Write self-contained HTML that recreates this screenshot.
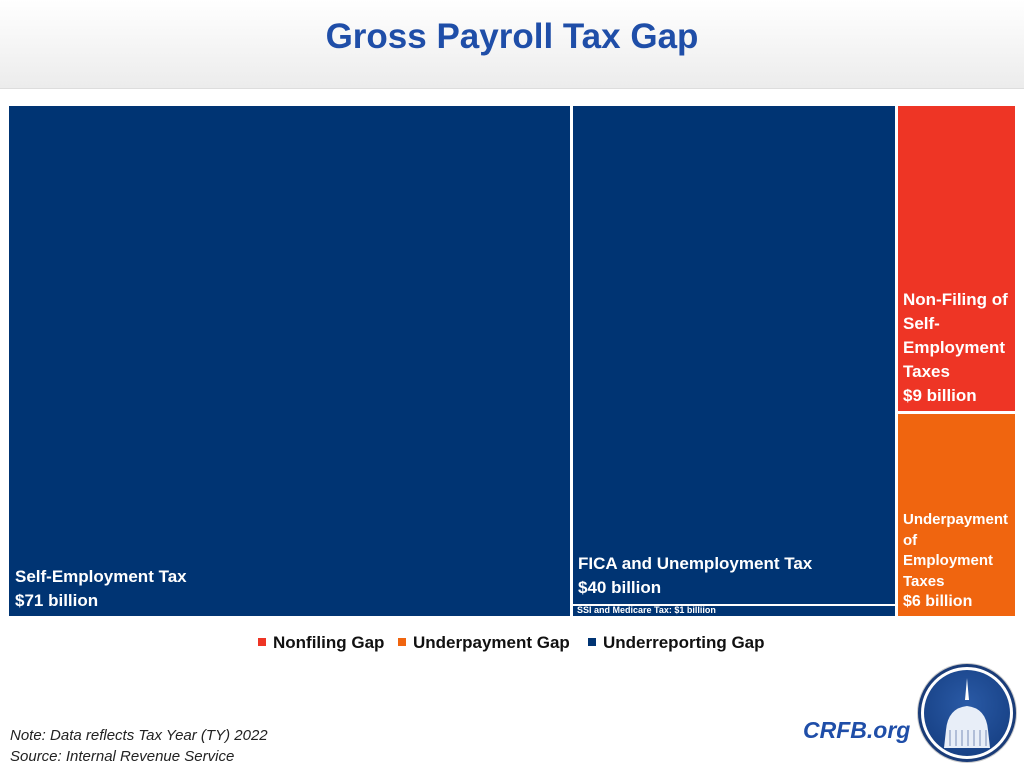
<!DOCTYPE html>
<html><head><style>
body{margin:0;width:1024px;height:768px;background:#fff;position:relative;overflow:hidden;font-family:"Liberation Sans",sans-serif}
.hdr{position:absolute;left:0;top:0;width:1024px;height:88px;background:linear-gradient(#fff,#ececec);border-bottom:1px solid #ddd}
.title{position:absolute;left:0;width:1024px;top:17px;text-align:center;font-size:35px;font-weight:bold;color:#1f4ea8}
.b{position:absolute}
.lab{position:absolute;color:#fff;font-weight:bold;font-size:17px;line-height:24px}
.leg{position:absolute;top:633px;font-size:17px;font-weight:bold;color:#111}
.sq{display:inline-block;width:8px;height:8px;margin-right:7px;vertical-align:2px}
.note{position:absolute;left:10px;font-size:15px;font-style:italic;color:#222}
</style></head><body>
<div class="hdr"></div>
<div class="title">Gross Payroll Tax Gap</div>
<div class="b" style="left:9px;top:106px;width:561px;height:510px;background:#003473"></div>
<div class="b" style="left:573px;top:106px;width:322px;height:498px;background:#003473"></div>
<div class="b" style="left:573px;top:606px;width:322px;height:10px;background:#003473"></div>
<div class="b" style="left:898px;top:106px;width:117px;height:305px;background:#ee3525"></div>
<div class="b" style="left:898px;top:414px;width:117px;height:202px;background:#f0650f"></div>
<div class="lab" style="left:15px;top:565px">Self-Employment Tax<br>$71 billion</div>
<div class="lab" style="left:578px;top:552px">FICA and Unemployment Tax<br>$40 billion</div>
<div class="lab" style="left:577px;top:604px;font-size:9px;line-height:12px">SSI and Medicare Tax: $1 billiion</div>
<div class="lab" style="left:903px;top:288px">Non-Filing of<br>Self-<br>Employment<br>Taxes<br>$9 billion</div>
<div class="lab" style="left:903px;top:510px;font-size:15px;line-height:20.5px">Underpayment<br>of<br>Employment<br>Taxes<br><span style="font-size:16px">$6 billion</span></div>
<div class="leg" style="left:258px"><span class="sq" style="background:#ee3525"></span>Nonfiling Gap</div>
<div class="leg" style="left:398px"><span class="sq" style="background:#f0650f"></span>Underpayment Gap</div>
<div class="leg" style="left:588px"><span class="sq" style="background:#003473"></span>Underreporting Gap</div>
<div class="note" style="top:727px">Note: Data reflects Tax Year (TY) 2022</div>
<div class="note" style="top:748px">Source: Internal Revenue Service</div>
<div style="position:absolute;left:803px;top:717px;font-size:23px;font-weight:bold;font-style:italic;color:#1f4ea8">CRFB.org</div>
<div style="position:absolute;left:918px;top:664px;width:92px;height:92px;border-radius:50%;background:#fff;border:3px solid #1a3c78;box-shadow:0 0 0 1px #ccc"></div>
<div style="position:absolute;left:924px;top:670px;width:86px;height:86px;border-radius:50%;background:radial-gradient(circle at 50% 40%,#2a5aa6,#123a7c)"></div>
<svg style="position:absolute;left:924px;top:670px" width="86" height="86">
<path d="M43 8 L45 30 L41 30 Z" fill="#fff"/>
<path d="M22 60 Q24 38 43 36 Q62 38 64 60 L66 78 L20 78 Z" fill="#e8eef8"/>
<g stroke="#7a8fb8" stroke-width="1"><line x1="26" y1="60" x2="26" y2="76"/><line x1="32" y1="60" x2="32" y2="76"/><line x1="38" y1="60" x2="38" y2="76"/><line x1="44" y1="60" x2="44" y2="76"/><line x1="50" y1="60" x2="50" y2="76"/><line x1="56" y1="60" x2="56" y2="76"/><line x1="62" y1="60" x2="62" y2="76"/></g>
</svg>
</body></html>
